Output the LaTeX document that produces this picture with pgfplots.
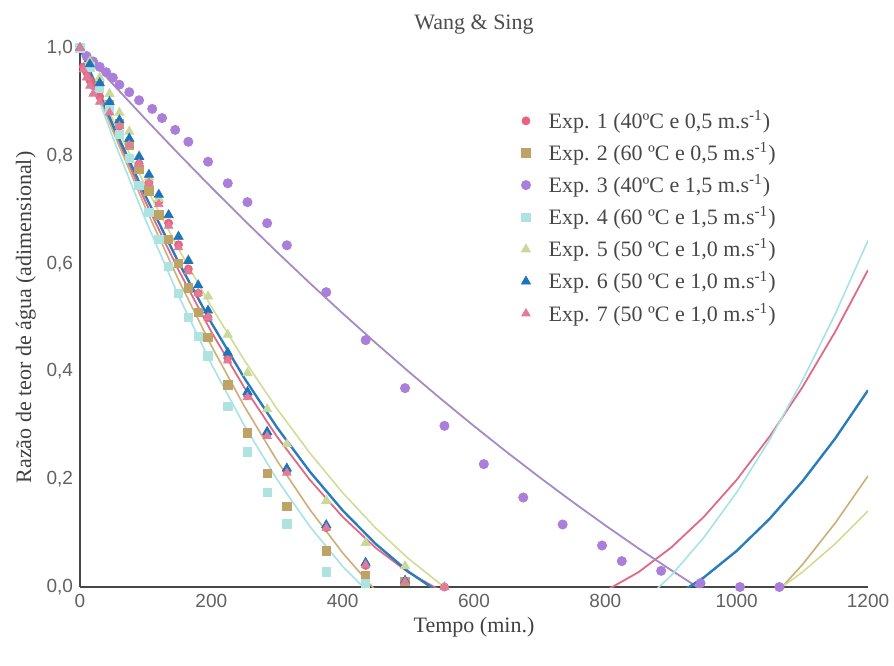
\documentclass[border=0pt]{standalone}
\usepackage{pgfplots}
\pgfplotsset{compat=1.18}
\usepackage{fontspec}
\setmainfont{Liberation Serif}
\newfontfamily\arial{Liberation Sans}

\definecolor{cExpA}{HTML}{E8637E}
\definecolor{cExpB}{HTML}{BFA266}
\definecolor{cExpC}{HTML}{A97FDA}
\definecolor{cExpD}{HTML}{AEE3E0}
\definecolor{cExpE}{HTML}{C9D99A}
\definecolor{cExpF}{HTML}{1C75BC}
\definecolor{cExpG}{HTML}{E07C9A}
\definecolor{lPurple}{HTML}{A58BC6}
\definecolor{lBlue}{HTML}{2A7DBA}
\definecolor{lRed}{HTML}{E06A86}
\definecolor{lTan}{HTML}{CDAE78}
\definecolor{lGreen}{HTML}{D3DC96}
\definecolor{lCyan}{HTML}{A6E2E8}

\begin{document}
\begin{tikzpicture}
\path[use as bounding box] (-40pt,-39pt) rectangle (407pt,293.5pt);
\begin{axis}[
    scale only axis,
    width=394pt, height=269.5pt,
    xmin=0, xmax=1200, ymin=0, ymax=1,
    axis x line=bottom, axis y line=left,
    axis line style={-, draw=black!72, line width=1.1pt},
    xtick={0,200,400,600,800,1000,1200},
    ytick={0,0.2,0.4,0.6,0.8,1},
    major tick length=0pt,
    /pgf/number format/assume math mode=true,
    tick label style={font=\arial\fontsize{9.5}{11}\selectfont, text=black!62},
    yticklabel style={/pgf/number format/.cd, fixed, fixed zerofill, precision=1, use comma},
    xticklabel style={/pgf/number format/1000 sep={}},
    title={Wang \& Sing},
    title style={font=\fontsize{11}{13}\selectfont, text=black!70, yshift=-2.5pt},
    xlabel={Tempo (min.)},
    ylabel={Razão de teor de água (adimensional)},
    label style={font=\fontsize{11}{13}\selectfont, text=black!75},
    xlabel style={yshift=2pt},
    ylabel style={yshift=-1.5pt},
    legend style={at={(0.552,0.9)}, anchor=north west, draw=none, fill=none,
        font=\fontsize{11}{13}\selectfont, text=black!72, row sep=1.5pt, column sep=7pt},
    legend cell align=left,
]
% fitted Wang & Sing curves
\addplot[forget plot, lRed, line width=0.9pt] coordinates {
(0,1)(50,0.8512)(100,0.7139)(150,0.5880)(200,0.4735)(250,0.3705)(300,0.2789)
(350,0.1988)(400,0.1301)(450,0.0729)(500,0.0271)(550,-0.0072)(600,-0.0301)
(650,-0.0415)(700,-0.0415)(750,-0.0301)(800,-0.0072)(850,0.0271)(900,0.0729)
(950,0.1301)(1000,0.1988)(1050,0.2789)(1100,0.3705)(1150,0.4735)(1200,0.5880)};
\addplot[forget plot, lTan, line width=0.8pt] coordinates {
(0,1)(50,0.8462)(100,0.7028)(150,0.5700)(200,0.4477)(250,0.3358)(300,0.2345)
(350,0.1437)(400,0.0633)(450,-0.0065)(500,-0.0658)(550,-0.1147)(600,-0.153)
(650,-0.181)(700,-0.198)(750,-0.205)(800,-0.201)(850,-0.187)(900,-0.162)
(950,-0.127)(1000,-0.0816)(1050,-0.0254)(1100,0.0413)(1150,0.1185)(1200,0.2061)};
\addplot[forget plot, lPurple, line width=0.9pt] coordinates {
(0,1)(50,0.9331)(100,0.8677)(150,0.8038)(200,0.7415)(250,0.6807)(300,0.6215)
(350,0.5638)(400,0.5077)(450,0.4531)(500,0.4001)(550,0.3486)(600,0.2986)
(650,0.2502)(700,0.2034)(750,0.1581)(800,0.1143)(850,0.0721)(900,0.0314)
(950,-0.0077)(1000,-0.0453)};
\addplot[forget plot, lCyan, line width=0.8pt] coordinates {
(0,1)(50,0.8337)(100,0.6805)(150,0.5406)(200,0.4137)(250,0.3001)(300,0.1996)
(350,0.1123)(400,0.0382)(450,-0.0228)(500,-0.0706)(550,-0.105)(600,-0.127)
(650,-0.135)(700,-0.130)(750,-0.112)(800,-0.0809)(850,-0.0365)(900,0.0210)
(950,0.0918)(1000,0.1756)(1050,0.2727)(1100,0.3829)(1150,0.5063)(1200,0.6429)};
\addplot[forget plot, lGreen, line width=0.8pt] coordinates {
(0,1)(50,0.8674)(100,0.7432)(150,0.6274)(200,0.5201)(250,0.4212)(300,0.3306)
(350,0.2486)(400,0.1749)(450,0.1096)(500,0.0528)(550,0.0044)(600,-0.0356)
(650,-0.0672)(700,-0.0903)(750,-0.105)(800,-0.111)(850,-0.109)(900,-0.0988)
(950,-0.0798)(1000,-0.0525)(1050,-0.0167)(1100,0.0275)(1150,0.0802)(1200,0.1412)};
\addplot[forget plot, lBlue, line width=1.2pt] coordinates {
(0,1)(50,0.8574)(100,0.7249)(150,0.6026)(200,0.4903)(250,0.3881)(300,0.2960)
(350,0.2140)(400,0.1421)(450,0.0803)(500,0.0286)(550,-0.0130)(600,-0.0445)
(650,-0.0659)(700,-0.0772)(750,-0.0784)(800,-0.0696)(850,-0.0506)(900,-0.0215)
(950,0.0177)(1000,0.0670)(1050,0.1263)(1100,0.1958)(1150,0.2754)(1200,0.3651)};

% experimental points
\addplot[only marks, mark=*, mark size=2pt, cExpA, mark options={draw=cExpA, fill=cExpA}] coordinates {
(0,1.0)(5,0.965)(10,0.955)(15,0.94)(20,0.93)(30,0.91)(45,0.885)(60,0.855)(75,0.82)
(90,0.785)(105,0.75)(120,0.715)(135,0.675)(150,0.635)(165,0.59)(180,0.545)(195,0.50)
(225,0.425)(255,0.355)(285,0.283)(315,0.215)(375,0.11)(435,0.04)(495,0.01)(555,0.0)};
\addlegendentry{Exp. 1 (40ºC e 0,5 m.s\textsuperscript{-1})}
\addplot[only marks, mark=square*, mark size=2.1pt, cExpB, mark options={draw=cExpB, fill=cExpB}] coordinates {
(0,1.0)(15,0.965)(30,0.93)(45,0.895)(60,0.86)(75,0.82)(90,0.775)(105,0.735)(120,0.69)
(135,0.645)(150,0.60)(165,0.555)(180,0.51)(195,0.463)(225,0.375)(255,0.286)(285,0.211)
(315,0.15)(375,0.067)(435,0.022)(495,0.01)};
\addlegendentry{Exp. 2 (60 ºC e 0,5 m.s\textsuperscript{-1})}
\addplot[only marks, mark=*, mark size=2.3pt, cExpC, mark options={draw=cExpC, fill=cExpC}] coordinates {
(0,1.0)(10,0.985)(20,0.975)(30,0.965)(40,0.955)(50,0.945)(60,0.932)(75,0.918)(90,0.903)
(110,0.887)(125,0.870)(145,0.848)(165,0.826)(195,0.789)(225,0.749)(255,0.714)(285,0.675)
(315,0.634)(375,0.547)(435,0.458)(495,0.369)(555,0.299)(615,0.228)(675,0.166)(735,0.116)
(795,0.077)(825,0.048)(885,0.030)(945,0.007)(1005,0.0)(1065,0.0)};
\addlegendentry{Exp. 3 (40ºC e 1,5 m.s\textsuperscript{-1})}
\addplot[only marks, mark=square*, mark size=2.1pt, cExpD, mark options={draw=cExpD, fill=cExpD}] coordinates {
(0,1.0)(15,0.965)(30,0.925)(45,0.885)(60,0.84)(75,0.795)(90,0.745)(105,0.695)(120,0.645)
(135,0.595)(150,0.545)(165,0.50)(180,0.465)(195,0.429)(225,0.335)(255,0.251)(285,0.175)
(315,0.117)(375,0.028)(435,0.007)};
\addlegendentry{Exp. 4 (60 ºC e 1,5 m.s\textsuperscript{-1})}
\addplot[only marks, mark=triangle*, mark size=2.6pt, cExpE, mark options={draw=cExpE, fill=cExpE}] coordinates {
(0,1.0)(15,0.975)(30,0.945)(45,0.915)(60,0.88)(75,0.845)(90,0.80)(105,0.76)(120,0.72)
(135,0.69)(150,0.65)(165,0.607)(195,0.539)(225,0.468)(255,0.397)(285,0.33)(315,0.265)
(375,0.16)(435,0.082)(495,0.039)(555,0.0)};
\addlegendentry{Exp. 5 (50 ºC e 1,0 m.s\textsuperscript{-1})}
\addplot[only marks, mark=triangle*, mark size=2.6pt, cExpF, mark options={draw=cExpF, fill=cExpF}] coordinates {
(0,1.0)(15,0.97)(30,0.935)(45,0.90)(60,0.866)(75,0.832)(90,0.798)(105,0.765)(120,0.728)
(135,0.69)(150,0.65)(165,0.605)(180,0.56)(195,0.513)(225,0.435)(255,0.362)(285,0.288)
(315,0.22)(375,0.115)(435,0.045)(495,0.012)};
\addlegendentry{Exp. 6 (50 ºC e 1,0 m.s\textsuperscript{-1})}
\addplot[only marks, mark=triangle*, mark size=2.4pt, cExpG, mark options={draw=cExpG, fill=cExpG}] coordinates {
(0,1.0)(5,0.96)(10,0.945)(15,0.93)(20,0.915)(30,0.9)(45,0.88)(60,0.855)(75,0.82)(90,0.785)
(105,0.75)(120,0.71)(135,0.67)(150,0.63)(165,0.585)(180,0.545)(195,0.5)(225,0.42)
(255,0.352)(285,0.28)(315,0.212)(375,0.11)(435,0.041)(495,0.01)(555,0.0)};
\addlegendentry{Exp. 7 (50 ºC e 1,0 m.s\textsuperscript{-1})}
\end{axis}
\end{tikzpicture}
\end{document}
